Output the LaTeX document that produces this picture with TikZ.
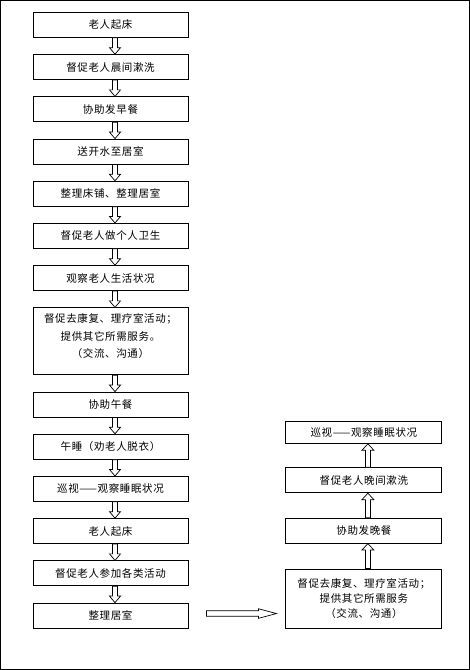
\documentclass[tikz,border=0pt]{standalone}
\usepackage{fontspec}
\setmainfont{Noto Sans CJK SC}[LetterSpace=6]
\usepackage{tikz}
\usetikzlibrary{positioning, calc}
\tikzset{
    box/.style={
        rectangle, draw, line width=0.9pt,
        minimum width=155pt, minimum height=25pt, inner sep=2pt,
        font=\fontsize{10.5}{13}\selectfont
    },
    bigbox/.style={box, text width=148pt, align=center},
    hollow/.style={draw, line width=0.7pt, fill=white, line join=miter}
}
% hollow block arrow: from, to, shaft half width, head half width, head length
\newcommand{\hollowarrow}[5]{%
    \coordinate (ha-s) at (#1);
    \coordinate (ha-t) at (#2);
    \coordinate (ha-c) at ($(ha-t)!#5!(ha-s)$);
    \draw[hollow] ($(ha-s)!#3!90:(ha-t)$) -- ($(ha-c)!#3!-90:(ha-s)$)
        -- ($(ha-c)!#4!-90:(ha-s)$) -- (ha-t)
        -- ($(ha-c)!#4!90:(ha-s)$) -- ($(ha-c)!#3!90:(ha-s)$)
        -- ($(ha-s)!#3!-90:(ha-t)$) -- cycle;
}

\begin{document}
\begin{tikzpicture}[x=1pt, y=1pt, node distance=16.3pt]
        \useasboundingbox (0,0) rectangle (470,670);
        \draw[line width=1.2pt] (0.8,0.8) rectangle (469.2,669.2);

        % left column
        \node (l1) [box, anchor=north] at (110.5,658) {老人起床};
        \node (l2) [box, below=of l1] {督促老人晨间漱洗};
        \node (l3) [box, below=of l2] {协助发早餐};
        \node (l4) [box, below=of l3] {送开水至居室};
        \node (l5) [box, below=of l4] {整理床铺、整理居室};
        \node (l6) [box, below=of l5] {督促老人做个人卫生};
        \node (l7) [box, below=of l6] {观察老人生活状况};
        \node (l8) [bigbox, minimum height=67pt, font=\fontsize{10.5}{17.5}\selectfont, below=of l7] {督促去康复、理疗室活动；\\提供其它所需服务。\\（交流、沟通）\\[-6pt]\mbox{}};
        \node (l9) [box, below=of l8] {协助午餐};
        \node (l10) [box, below=of l9] {午睡（劝老人脱衣）};
        \node (l11) [box, below=of l10] {巡视——观察睡眠状况};
        \node (l12) [box, below=of l11] {老人起床};
        \node (l13) [box, below=of l12] {督促老人参加各类活动};
        \node (l14) [box, below=of l13] {整理居室};

        % right column
        \node (r4) [bigbox, minimum width=156pt, minimum height=59pt, font=\fontsize{10.5}{15}\selectfont, anchor=south west] at ($(l14.south east)+(97,0)$) {督促去康复、理疗室活动；\\提供其它所需服务\\（交流、沟通）};
        \node (r3) [box, minimum width=156pt, above=25pt of r4] {协助发晚餐};
        \node (r2) [box, minimum width=156pt, above=24.5pt of r3] {督促老人晚间漱洗};
        \node (r1) [box, minimum width=156pt, minimum height=22pt, above=23.5pt of r2] {巡视——观察睡眠状况};

        % arrows
        \foreach \a/\b in {l1/l2, l2/l3, l3/l4, l4/l5, l5/l6, l6/l7, l7/l8, l8/l9, l9/l10, l10/l11, l11/l12, l12/l13, l13/l14}
            \hollowarrow{[xshift=4.5pt]\a.south}{[xshift=4.5pt]\b.north}{2.5pt}{5.5pt}{6.5pt};
        \foreach \a/\b in {r4/r3, r3/r2, r2/r1}
            \hollowarrow{[xshift=4pt]\a.north}{[xshift=4pt]\b.south}{2.5pt}{6pt}{6.5pt};

        \coordinate (hs) at ([shift={(18pt,2pt)}]l14.east);
        \coordinate (he) at ($(r4.west |- hs)+(-9,0)$);
        \hollowarrow{hs}{he}{2.8pt}{4.8pt}{18pt};
    \end{tikzpicture}
\end{document}
